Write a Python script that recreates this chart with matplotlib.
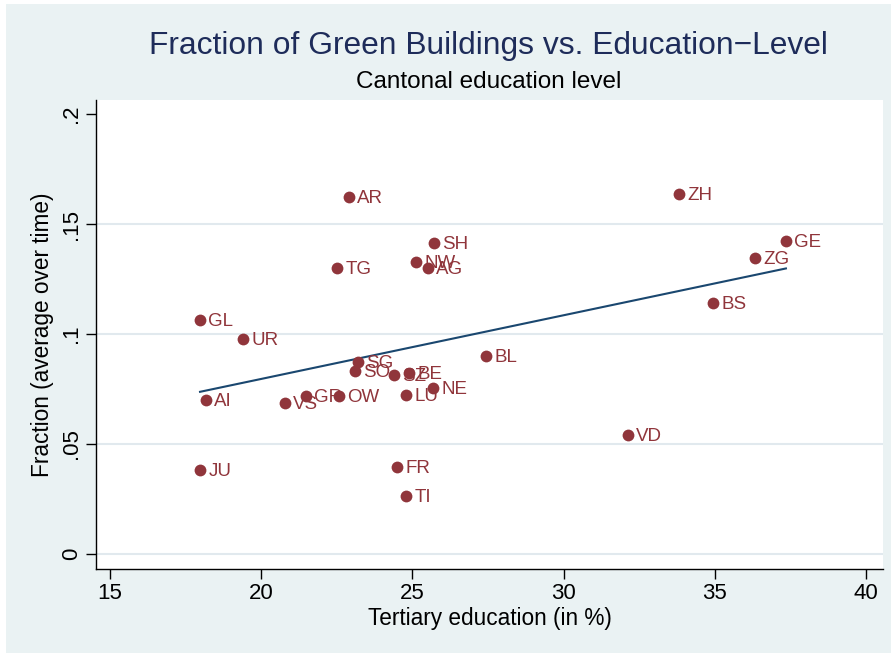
import numpy as np
import matplotlib
matplotlib.use("Agg")
import matplotlib.pyplot as plt
from matplotlib.patches import Rectangle

plt.rcParams["font.family"] = ["Liberation Sans", "DejaVu Sans"]

cantons = ["AR", "ZH", "SH", "GE", "NW", "AG", "TG", "ZG", "BS", "GL", "UR",
           "SG", "BL", "SO", "SZ", "BE", "NE", "LU", "OW", "GR", "AI", "VS",
           "VD", "JU", "FR", "TI"]
tertiary = [22.90, 33.82, 25.71, 37.35, 25.12, 25.52, 22.51, 36.33, 34.94,
            17.98, 19.40, 23.20, 27.43, 23.10, 24.39, 24.89, 25.68, 24.79,
            22.57, 21.48, 18.17, 20.79, 32.13, 17.98, 24.49, 24.79]
fraction = [0.1623, 0.1636, 0.1414, 0.1423, 0.1327, 0.1300, 0.1300, 0.1345,
            0.1141, 0.1064, 0.0977, 0.0873, 0.0900, 0.0832, 0.0814, 0.0823,
            0.0755, 0.0723, 0.0718, 0.0718, 0.0700, 0.0686, 0.0541, 0.0382,
            0.0395, 0.0264]
xticks = [15, 20, 25, 30, 35, 40]
yticks = [0, 0.05, 0.10, 0.15, 0.20]
yticklabels = ["0", ".05", ".1", ".15", ".2"]

BG = "#EAF2F3"
MAROON = "#90353B"
NAVY = "#1A476F"
GRID = "#E1E9EE"

W, H = 891, 653
fig = plt.figure(figsize=(W / 100, H / 100), dpi=100)
fig.patch.set_facecolor(BG)
# thin white margin along the top and left edges
fig.add_artist(Rectangle((0, 1 - 4 / H), 1, 4 / H, transform=fig.transFigure,
                         facecolor="white", edgecolor="none", zorder=-5))
fig.add_artist(Rectangle((0, 0), 6 / W, 1, transform=fig.transFigure,
                         facecolor="white", edgecolor="none", zorder=-5))

ax = fig.add_axes([96 / W, 1 - 569 / H, (883 - 96) / W, (569 - 100) / H])
ax.set_facecolor("white")
ax.set_xlim(14.54, 40.56)
ax.set_ylim(-0.0068, 0.2064)

for s in ["top", "right"]:
    ax.spines[s].set_visible(False)
for s in ["left", "bottom"]:
    ax.spines[s].set_color("black")
    ax.spines[s].set_linewidth(1.0)

for yv in yticks[:-1]:
    ax.axhline(yv, color=GRID, lw=1.5, zorder=0)

x = np.array(tertiary)
y = np.array(fraction)
ax.plot(x, y, "o", color=MAROON, markersize=8.5, markeredgewidth=0, zorder=3)
for name, xv, yv in zip(cantons, x, y):
    ax.annotate(name, (xv, yv), xytext=(6, -1), textcoords="offset points",
                ha="left", va="center", color=MAROON, fontsize=13.5, zorder=4)

# linear fit across the observed range
slope, intercept = np.polyfit(x, y, 1)
xs = np.array([x.min(), x.max()])
ax.plot(xs, intercept + slope * xs, color=NAVY, lw=1.5, zorder=2)

ax.set_xticks(xticks)
ax.set_xticklabels([str(t) for t in xticks], fontsize=16)
ax.set_yticks(yticks)
ax.set_yticklabels(yticklabels, fontsize=16, rotation=90, va="center")
ax.tick_params(axis="both", direction="out", length=7, width=1.0, color="black",
               pad=3)

ax.set_xlabel("Tertiary education (in %)", fontsize=16.3, labelpad=2)
ax.set_ylabel("Fraction (average over time)", fontsize=16.3, labelpad=5)

fig.text(488 / W, 1 - 46 / H, "Fraction of Green Buildings vs. Education\u2212Level",
         ha="center", va="center", fontsize=22.9, color="#1E2C5A")
fig.text(489 / W, 1 - 82 / H, "Cantonal education level",
         ha="center", va="center", fontsize=17.5, color="black")

fig.savefig("out.png", dpi=100, facecolor=fig.get_facecolor())
